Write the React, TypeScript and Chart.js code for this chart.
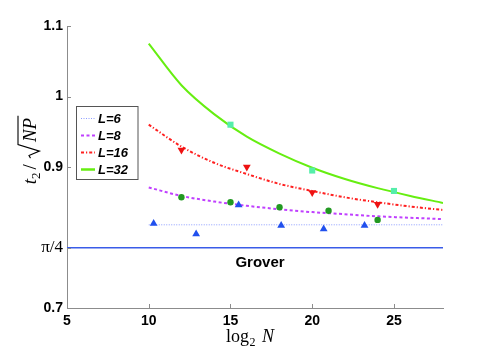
import React, { useEffect, useRef } from "react";
import { Chart, registerables } from "chart.js";

Chart.register(...registerables);

// ---- data ----
const xTickValues = [5, 10, 15, 20, 25];
const yTickValues = [0.7, Math.PI / 4, 0.9, 1.0, 1.1];
const yTickLabels = ["0.7", "π/4", "0.9", "1", "1.1"];

const curveX = [10, 12, 14, 16, 18, 20, 22, 24, 26, 28];
const curveL6 = [0.818, 0.818, 0.818, 0.818, 0.818, 0.818, 0.818, 0.818, 0.818, 0.818];
const curveL8 = [0.871, 0.859, 0.851, 0.845, 0.840, 0.836, 0.833, 0.830, 0.828, 0.826];
const curveL16 = [0.960, 0.929, 0.906, 0.890, 0.876, 0.866, 0.857, 0.850, 0.844, 0.839];
const curveL32 = [1.075, 1.016, 0.975, 0.943, 0.919, 0.899, 0.883, 0.870, 0.859, 0.849];

const groverX = [5, 28];
const groverY = [Math.PI / 4, Math.PI / 4];

const ptsL6X = [10.3, 12.9, 15.5, 18.1, 20.7, 23.2];
const ptsL6Y = [0.820, 0.805, 0.846, 0.817, 0.812, 0.817];
const ptsL8X = [12, 15, 18, 21, 24];
const ptsL8Y = [0.857, 0.850, 0.843, 0.838, 0.825];
const ptsL16X = [12, 16, 20, 24];
const ptsL16Y = [0.924, 0.900, 0.864, 0.847];
const ptsL32X = [15, 20, 25];
const ptsL32Y = [0.960, 0.895, 0.866];

const legendLabels = ["L=6", "L=8", "L=16", "L=32"];

// ---- styles ----
const C6 = "#8c9cff";
const C8 = "#c040ff";
const C16 = "#ff2020";
const C32 = "#66ee11";
const DASH6 = [1, 1.5];
const DASH8 = [3, 2.5];
const DASH16 = [3, 2, 1.2, 2];
const SANS = '"Liberation Sans", Arial, sans-serif';
const SERIF = '"Liberation Serif", "Times New Roman", serif';

const zip = (xs: number[], ys: number[]) => xs.map((x, i) => ({ x, y: ys[i] }));

const overlayPlugin = {
  id: "overlay",
  afterDraw(chart: any) {
    const ctx: CanvasRenderingContext2D = chart.ctx;
    const xs = chart.scales.x;
    const ys = chart.scales.y;
    const area = chart.chartArea;
    ctx.save();
    // inward ticks
    ctx.strokeStyle = "#8c8c8c";
    ctx.lineWidth = 1;
    ctx.beginPath();
    xTickValues.forEach((v) => {
      const px = Math.round(xs.getPixelForValue(v)) + 0.5;
      ctx.moveTo(px, area.bottom);
      ctx.lineTo(px, area.bottom - 4);
    });
    yTickValues.forEach((v) => {
      const py = Math.round(ys.getPixelForValue(v)) + 0.5;
      ctx.moveTo(area.left, py);
      ctx.lineTo(area.left + 4, py);
    });
    ctx.stroke();

    // Grover label
    ctx.fillStyle = "#000";
    ctx.font = `bold 15px ${SANS}`;
    ctx.textAlign = "left";
    ctx.textBaseline = "middle";
    ctx.fillText("Grover", xs.getPixelForValue(15.3), ys.getPixelForValue(Math.PI / 4) + 15);

    // legend box
    const lx = 76.5, ly = 106.5, lw = 61.5, lh = 73;
    ctx.fillStyle = "#fff";
    ctx.fillRect(lx, ly, lw, lh);
    ctx.strokeStyle = "#555";
    ctx.setLineDash([]);
    ctx.strokeRect(lx, ly, lw, lh);
    const styles = [
      { c: C6, d: DASH6, w: 1 },
      { c: C8, d: DASH8, w: 2 },
      { c: C16, d: DASH16, w: 2 },
      { c: C32, d: [], w: 2.5 },
    ];
    const rowY = [118.5, 135.5, 152.5, 169.5];
    legendLabels.forEach((lab, i) => {
      const s = styles[i];
      ctx.strokeStyle = s.c;
      ctx.lineWidth = s.w;
      ctx.setLineDash(s.d);
      ctx.beginPath();
      ctx.moveTo(81, rowY[i]);
      ctx.lineTo(95, rowY[i]);
      ctx.stroke();
      ctx.setLineDash([]);
      ctx.fillStyle = "#000";
      ctx.font = `italic bold 13px ${SANS}`;
      ctx.textBaseline = "middle";
      ctx.fillText(lab, 98, rowY[i] + 0.5);
    });

    // x title: log_2 N
    ctx.fillStyle = "#000";
    ctx.textBaseline = "alphabetic";
    let tx = 226;
    const by = 342;
    ctx.font = `18px ${SERIF}`;
    ctx.fillText("log", tx, by);
    tx += ctx.measureText("log").width;
    ctx.font = `12px ${SERIF}`;
    ctx.fillText("2", tx + 0.5, by + 4);
    tx += ctx.measureText("2").width + 7;
    ctx.font = `italic 18px ${SERIF}`;
    ctx.fillText("N", tx, by);

    // y title: t_2 / sqrt(NP)
    ctx.save();
    ctx.translate(35.5, 150);
    ctx.rotate(-Math.PI / 2);
    ctx.font = `italic 19px ${SERIF}`;
    const wt = ctx.measureText("t").width;
    ctx.font = `13px ${SERIF}`;
    const w2 = ctx.measureText("2").width;
    ctx.font = `19px ${SERIF}`;
    const wsl = ctx.measureText("/").width;
    ctx.font = `italic 19px ${SERIF}`;
    const wnp = ctx.measureText("NP").width;
    const wrad = 16;
    const total = wt + w2 + 3 + wsl + 6 + wrad + wnp + 2;
    let x = -total / 2;
    ctx.font = `italic 19px ${SERIF}`;
    ctx.fillText("t", x, 0);
    x += wt;
    ctx.font = `13px ${SERIF}`;
    ctx.fillText("2", x, 4);
    x += w2 + 3;
    ctx.font = `19px ${SERIF}`;
    ctx.fillText("/", x, 0);
    x += wsl + 6;
    // radical
    ctx.strokeStyle = "#000";
    ctx.lineWidth = 1.1;
    ctx.beginPath();
    ctx.moveTo(x, -5);
    ctx.lineTo(x + 2.5, -6.5);
    ctx.lineTo(x + 7, 4);
    ctx.lineTo(x + 13.5, -17.5);
    ctx.lineTo(x + wrad + wnp + 2, -17.5);
    ctx.stroke();
    x += wrad;
    ctx.font = `italic 19px ${SERIF}`;
    ctx.fillText("NP", x, 0);
    ctx.restore();

    ctx.restore();
  },
};

export default function App() {
  const ref = useRef<HTMLCanvasElement | null>(null);

  useEffect(() => {
    if (!ref.current) return;
    const lineDs = (label: string, ys: number[], color: string, dash: number[], width: number) => ({
      type: "line" as const,
      label,
      data: zip(curveX, ys),
      borderColor: color,
      borderWidth: width,
      borderDash: dash,
      pointRadius: 0,
      fill: false,
      tension: 0.4,
      cubicInterpolationMode: "monotone" as const,
      order: 2,
    });
    const ptDs = (label: string, xs: number[], ys: number[], color: string, style: string, radius: number, rotation = 0) => ({
      type: "scatter" as const,
      label,
      data: zip(xs, ys),
      backgroundColor: color,
      borderColor: color,
      borderWidth: 0,
      pointStyle: style,
      pointRadius: radius,
      pointRotation: rotation,
      showLine: false,
      order: 0,
    });

    const chart = new Chart(ref.current, {
      type: "scatter",
      data: {
        datasets: [
          {
            type: "line",
            label: "Grover",
            data: zip(groverX, groverY),
            borderColor: "#3a5ce8",
            borderWidth: 1.5,
            pointRadius: 0,
            fill: false,
            order: 3,
          } as any,
          lineDs("L=6", curveL6, C6, DASH6, 1),
          lineDs("L=8", curveL8, C8, DASH8, 2),
          lineDs("L=16", curveL16, C16, DASH16, 2),
          lineDs("L=32", curveL32, C32, [], 2),
          ptDs("L=6 pts", ptsL6X, ptsL6Y, "#2050ee", "triangle", 4.5),
          ptDs("L=8 pts", ptsL8X, ptsL8Y, "#229922", "circle", 3.2),
          ptDs("L=16 pts", ptsL16X, ptsL16Y, "#ee1111", "triangle", 4.5, 180),
          ptDs("L=32 pts", ptsL32X, ptsL32Y, "#55eeaa", "rect", 4.3),
        ] as any,
      },
      options: {
        animation: false,
        responsive: false,
        maintainAspectRatio: false,
        layout: { padding: { left: 0, top: 26, right: 48, bottom: 0 } },
        plugins: {
          legend: { display: false },
          tooltip: { enabled: false },
        },
        scales: {
          x: {
            type: "linear",
            min: 5,
            max: 28,
            grid: { display: false, drawTicks: false },
            border: { display: true, color: "#8c8c8c", width: 1 },
            afterBuildTicks: (scale: any) => {
              scale.ticks = xTickValues.map((v) => ({ value: v }));
            },
            afterFit: (scale: any) => {
              scale.height = 40;
            },
            ticks: {
              color: "#000",
              padding: 5,
              maxRotation: 0,
              autoSkip: false,
              font: { family: SANS, size: 14, weight: "bold" },
            },
          },
          y: {
            type: "linear",
            min: 0.7,
            max: 1.1,
            grid: { display: false, drawTicks: false },
            border: { display: true, color: "#8c8c8c", width: 1 },
            afterBuildTicks: (scale: any) => {
              scale.ticks = yTickValues.map((v) => ({ value: v }));
            },
            afterFit: (scale: any) => {
              scale.width = 67;
            },
            ticks: {
              color: "#000",
              padding: 4,
              autoSkip: false,
              callback: (_v: any, i: number) => yTickLabels[i],
              font: (c: any) =>
                c.tick && Math.abs(c.tick.value - Math.PI / 4) < 1e-6
                  ? { family: SERIF, size: 17, weight: "normal" }
                  : { family: SANS, size: 14, weight: "bold" },
            },
          },
        },
      } as any,
      plugins: [overlayPlugin],
    });
    return () => chart.destroy();
  }, []);

  return (
    <div style={{ position: "fixed", left: 0, top: 0, width: 491, height: 348, background: "#fff" }}>
      <canvas ref={ref} width={491} height={348} style={{ width: 491, height: 348, display: "block" }} />
    </div>
  );
}
